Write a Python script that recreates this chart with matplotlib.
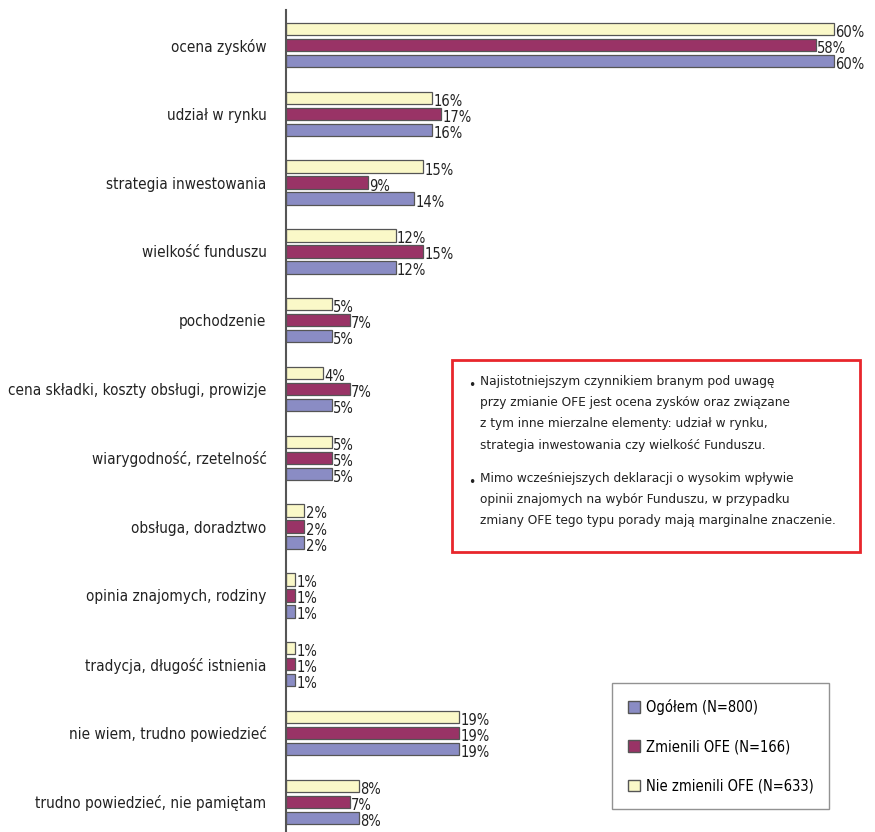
import numpy as np
import matplotlib
matplotlib.use("Agg")
import matplotlib.pyplot as plt
from matplotlib.patches import Patch, Rectangle

plt.rcParams['font.family'] = ['DejaVu Sans']
plt.rcParams['font.stretch'] = 'condensed'

categories = [
    "ocena zysków", "udział w rynku", "strategia inwestowania", "wielkość funduszu",
    "pochodzenie", "cena składki, koszty obsługi, prowizje", "wiarygodność, rzetelność",
    "obsługa, doradztwo", "opinia znajomych, rodziny", "tradycja, długość istnienia",
    "nie wiem, trudno powiedzieć", "trudno powiedzieć, nie pamiętam",
]
nie_zmienili = [60, 16, 15, 12, 5, 4, 5, 2, 1, 1, 19, 8]
zmienili = [58, 17, 9, 15, 7, 7, 5, 2, 1, 1, 19, 7]
ogolem = [60, 16, 14, 12, 5, 5, 5, 2, 1, 1, 19, 8]

series_labels = ["Ogółem (N=800)", "Zmienili OFE (N=166)", "Nie zmienili OFE (N=633)"]
colors = ["#8A8CC4", "#993366", "#FAF8C8"]

note1 = ("Najistotniejszym czynnikiem branym pod uwagę\n"
         "przy zmianie OFE jest ocena zysków oraz związane\n"
         "z tym inne mierzalne elementy: udział w rynku,\n"
         "strategia inwestowania czy wielkość Funduszu.")
note2 = ("Mimo wcześniejszych deklaracji o wysokim wpływie\n"
         "opinii znajomych na wybór Funduszu, w przypadku\n"
         "zmiany OFE tego typu porady mają marginalne znaczenie.")

W, H = 875, 832
fig = plt.figure(figsize=(W / 100, H / 100), dpi=100)
ax = fig.add_axes([286 / W, 0, 1 - 286 / W, 1 - 10 / H])

y = np.arange(len(categories))
off = 0.233
h = 0.18
for vals, dy, col in [(nie_zmienili, -off, colors[2]), (zmienili, 0, colors[1]), (ogolem, off, colors[0])]:
    bars = ax.barh(y + dy, vals, height=h, color=col, edgecolor="#555555", linewidth=0.9)
    for b, v in zip(bars, vals):
        ax.text(v + 0.15, b.get_y() + b.get_height() / 2 + 0.05, f"{v}%",
                va="center", ha="left", fontsize=10.5, color="#222222")

ax.set_xlim(0, (W - 286) / 9.13)
ax.set_ylim(11.44, -0.51)
ax.set_yticks(y)
ax.set_yticklabels(categories, fontsize=11, color="#222222")
ax.tick_params(axis="y", length=0, pad=14)
ax.set_xticks([])
for s in ["top", "right", "bottom"]:
    ax.spines[s].set_visible(False)
ax.spines["left"].set_color("#555555")
ax.spines["left"].set_linewidth(1.5)

# note box
fig.patches.append(Rectangle((452 / W, 1 - 552 / H), (860 - 452) / W, (552 - 360) / H,
                             transform=fig.transFigure, fill=False, edgecolor="#E8262C", linewidth=2))
fig.text(468 / W, 1 - 385 / H, "•", fontsize=9.7, va="center", color="#222222")
fig.text(480 / W, 1 - 375 / H, note1, fontsize=9.7, va="top", linespacing=1.82, color="#222222")
fig.text(468 / W, 1 - 482 / H, "•", fontsize=9.7, va="center", color="#222222")
fig.text(480 / W, 1 - 472 / H, note2, fontsize=9.7, va="top", linespacing=1.82, color="#222222")

handles = [Patch(facecolor=c, edgecolor="#555555") for c in colors]
leg = fig.legend(handles, series_labels, loc="upper left", bbox_to_anchor=(612 / W, 1 - 683 / H),
                 fontsize=10.5, fancybox=False, frameon=True, edgecolor="#777777",
                 handlelength=0.8, handleheight=0.8, handletextpad=0.4,
                 labelspacing=1.65, borderpad=1.1, borderaxespad=0)
leg.get_frame().set_linewidth(1.0)

fig.savefig("out.png", dpi=100)
